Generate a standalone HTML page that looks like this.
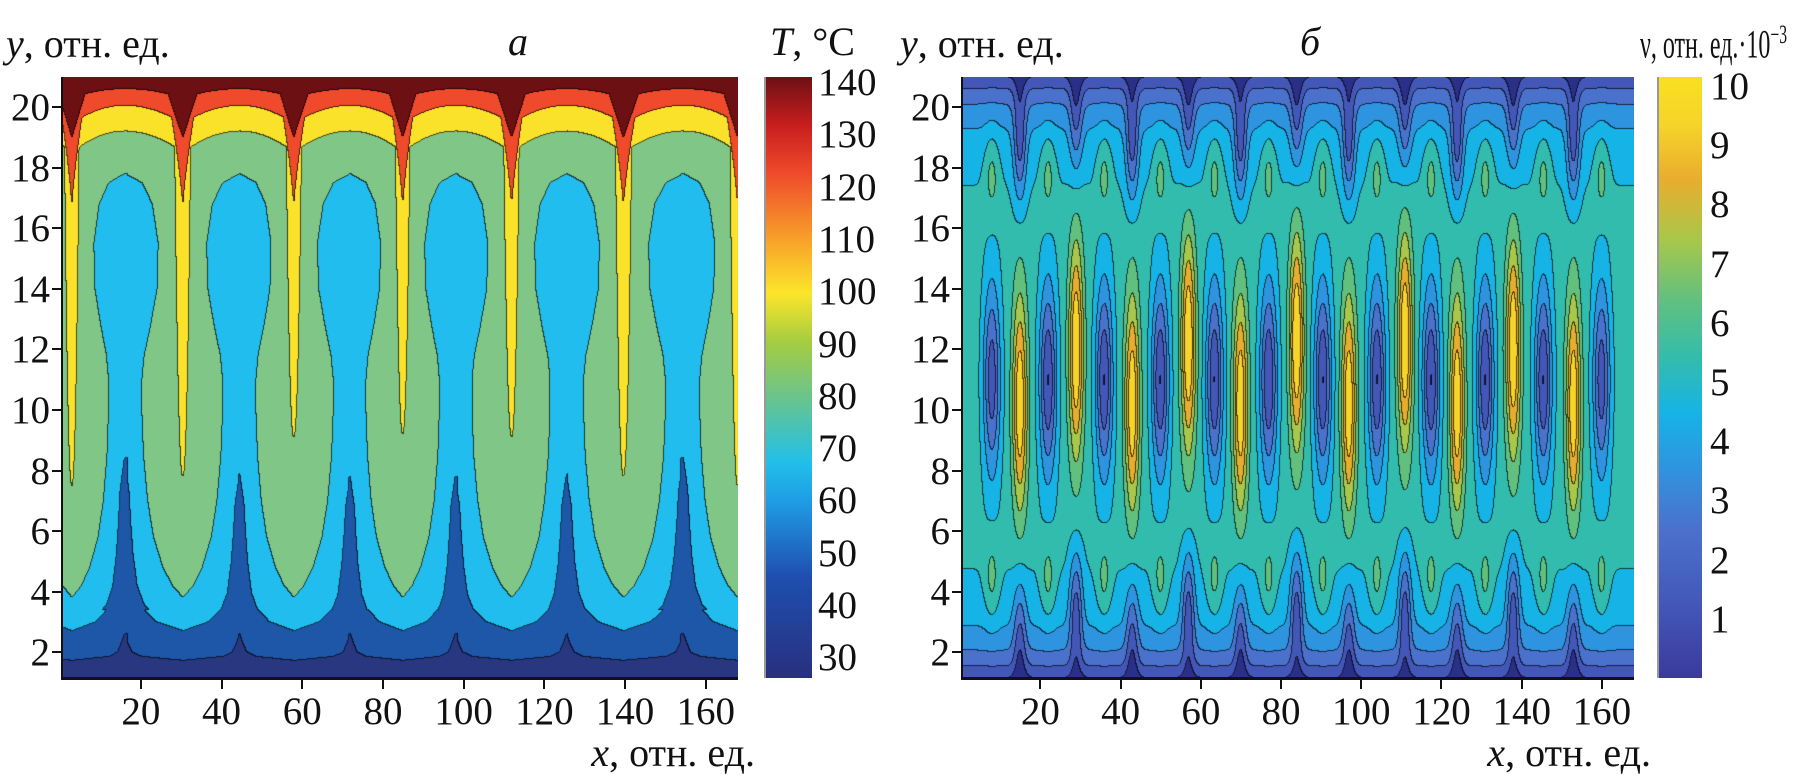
<!DOCTYPE html>
<html><head><meta charset="utf-8">
<style>
body{margin:0;background:#fff;width:1802px;height:781px;overflow:hidden;position:relative;font-family:"Liberation Serif",serif;color:#111}
.t{position:absolute;font-size:40px;white-space:nowrap;line-height:1}
canvas{position:absolute}
</style></head><body>
<canvas id="cl" style="left:63px;top:77px" width="675" height="601"></canvas>
<canvas id="cr" style="left:963px;top:77px" width="671" height="601"></canvas>
<div style="position:absolute;left:764px;top:77px;width:46px;height:601px;background:linear-gradient(to top,#28307e 0%,#1f4fb0 17%,#1fa0e6 30%,#22c0e8 36%,#6cc48a 47%,#a6cd40 56%,#fbe52a 64%,#f8a82a 72%,#ef4a2b 84%,#c81e1e 92%,#6d1014 100%);border-left:2px solid #999"></div>
<div style="position:absolute;left:1657px;top:77px;width:43px;height:601px;background:linear-gradient(to top,#3b3a9c 0%,#4357b8 12%,#4a72cc 25%,#2f94e0 35%,#16b3e6 44%,#32bcae 53%,#62c07e 63%,#a9c74a 73%,#e9ad2e 83%,#f6d42a 92%,#f8e020 100%);border-left:2px solid #999"></div>
<div id="axes"></div>
<div class="t" style="left:6px;top:24px"><i>y</i>, отн. ед.</div>
<div class="t" style="left:508px;top:22px"><i>а</i></div>
<div class="t" style="left:770px;top:22px"><i>T</i>, °С</div>
<div class="t" style="right:1047px;top:733px"><i>x</i>, отн. ед.</div>
<div class="t" style="left:900px;top:24px"><i>y</i>, отн. ед.</div>
<div class="t" style="left:1300px;top:22px"><i>б</i></div>
<div class="t" style="left:1640px;top:22px;transform:scaleX(0.6);transform-origin:left top">ν, отн. ед.·10<sup style="font-size:26px">−3</sup></div>
<div class="t" style="right:151px;top:733px"><i>x</i>, отн. ед.</div>
<script>
// ---- data ----
const xTicks=[20,40,60,80,100,120,140,160];
const yTicks=[2,4,6,8,10,12,14,16,18,20];
const tTicks=[30,40,50,60,70,80,90,100,110,120,130,140];
const vTicks=[1,2,3,4,5,6,7,8,9,10];
// panel a: hot cusps (top) and cold columns (bottom) x positions
const hotX=[3,30.5,58,85,112,139.7,168];
const hotTipY=[7.5,7.8,9.1,9.2,9.1,7.8,7.5];
const coldX=[16,44.6,72,98,125.6,154.6];
const coldTipY=[8.4,7.9,7.8,7.8,7.9,8.4];
// panel b: peaks and troughs
const peakX=[15,29,43,57,70,84,97,111,124,138,153];
const peakY=[10.2,12,10.2,12.2,10.2,12.3,10.2,12.3,10.2,12,10.2];
const peakV=[4.6,4.8,4.6,4.8,4.6,4.8,4.6,4.8,4.6,4.8,4.6];
const troughX=[8,22,36,50,63.5,77,90.5,104,117.5,131,145.5,160];
const troughV=[-4,-4.4,-4.4,-4.4,-4.4,-4.4,-4.4,-4.4,-4.4,-4.4,-4.4,-4];

const X0=0.7,X1=168,Y0=1.15,Y1=21;
function mk(tag,name,css,txt){const e=document.createElement(tag);e.setAttribute('style',css);if(txt!==undefined)e.textContent=txt;


document.getElementById('axes').appendChild(e);return e;}
function axesFor(L,W,tag){
  const T=77,H=601;
  const sx=x=>L+(x-X0)*W/(X1-X0), sy=y=>T+(Y1-y)*H/(Y1-Y0);
  mk('div','y-axis-line-'+tag,`position:absolute;left:${L-2}px;top:${T}px;width:2px;height:${H+1}px;background:#111`);
  mk('div','x-axis-line-'+tag,`position:absolute;left:${L-2}px;top:${T+H-1}px;width:${W+2}px;height:3px;background:#111`);
  yTicks.forEach(v=>{const p=sy(v);
    mk('div','y-tick-'+tag,`position:absolute;left:${L-11}px;top:${p-1}px;width:9px;height:2px;background:#111`);
    mk('div','y-tick-label-'+tag,`position:absolute;right:${1802-(L-13)}px;top:${p-19}px;font-size:39px;line-height:1`,String(v));});
  xTicks.forEach(v=>{const p=sx(v);
    mk('div','x-tick-'+tag,`position:absolute;left:${p-1}px;top:${T+H+2}px;width:2px;height:9px;background:#111`);
    mk('div','x-tick-label-'+tag,`position:absolute;left:${p-50}px;width:100px;text-align:center;top:${T+H+14}px;font-size:39px;line-height:1`,String(v));});
  return {sx,sy};
}
axesFor(63,675,'a');axesFor(963,671,'b');
tTicks.forEach(v=>{const p=77+(141-v)*601/(141-26);
  mk('div','temperature-colorbar-label',`position:absolute;left:818px;top:${p-19}px;font-size:39px;line-height:1`,String(v));});
vTicks.forEach(v=>{const p=77+(10.15-v)*601/10.15;
  mk('div','velocity-colorbar-label',`position:absolute;left:1710px;top:${p-19}px;font-size:39px;line-height:1`,String(v));});

function interp(ys,hs,y){if(y>=ys[0])return hs[0];for(let i=1;i<ys.length;i++){if(y>=ys[i]){const t=(y-ys[i])/(ys[i-1]-ys[i]);return hs[i]+t*(hs[i-1]-hs[i]);}}return hs[hs.length-1];}
function hex(c){return [parseInt(c.substr(1,2),16),parseInt(c.substr(3,2),16),parseInt(c.substr(5,2),16)];}
function spike(y,s,tip,top,w0,p){if(y<=tip)return false;return s<w0*Math.pow(Math.min(1,(y-tip)/(top-tip)),p);}
const cyY=[17.8,17.5,16.8,15.5,14,12.8,11.8,11,10,8.5,7,5.8,4.8,4.2,3.8],cyH=[0,0.3,0.48,0.58,0.56,0.45,0.34,0.3,0.3,0.33,0.4,0.5,0.66,0.82,1];
const blY=[8,7,6,5,4,3.4,3.0,2.7],blH=[0,0.08,0.11,0.15,0.22,0.34,0.55,1];
const nvY=[2.6,2.3,2.0,1.85,1.72],nvH=[0,0.06,0.13,0.3,1];
function bandA(x,y){
  let h=0;for(let i=0;i<hotX.length;i++)if(Math.abs(x-hotX[i])<Math.abs(x-hotX[h]))h=i;
  let c=(x>=hotX[h])?h:h-1;c=Math.max(0,Math.min(coldX.length-1,c));
  const s=Math.min(1,Math.abs(x-hotX[h])/Math.abs(coldX[c]-hotX[h]));
  let cc=0;for(let i=0;i<coldX.length;i++)if(Math.abs(x-coldX[i])<Math.abs(x-coldX[cc]))cc=i;
  const r=1-s;
  if(y>20.6-0.3*r*r||spike(y,s,19.0,20.6,0.28,1))return 0;
  if(y>20.05-0.6*r*r||spike(y,s,16.7,20.0,0.22,1.3))return 1;
  if(y>19.2-0.7*r*r||spike(y,s,hotTipY[h],19.0,0.14,0.45))return 2;
  if(y<=1.72||r<interp(nvY,nvH,y))return 6;
  const yb=y*8/coldTipY[cc];
  if(r<interp(blY,blH,y<3.4?y:yb))return 5;
  if(y<17.8&&r<interp(cyY,cyH,y))return 4;
  return 3;
}
const colA=['#6d1014','#ef4a2b','#fbe22a','#80c686','#20bdee','#1e56a8','#283780'].map(hex);
const colB=['#2a2f88','#4357b8','#4a72cc','#2f94e0','#16b3e6','#32bcae','#62c07e','#a9c74a','#e9ad2e','#f6d42a'].map(hex);
function g(a,b){return Math.exp(-(a*a+b*b));}
function valB(x,y){
  let v=5.4;
  for(let i=0;i<peakX.length;i++){
    v+=peakV[i]*g((x-peakX[i])/1.8,(y-peakY[i])/3.6);
    const deep=peakY[i]<11;
    v-=(deep?3.0:2.2)*g((x-peakX[i])/1.6,(y-(deep?18.8:19.6))/2.0);
    v-=(deep?2.2:3.0)*g((x-peakX[i])/1.6,(y-(deep?2.6:3.4))/2.0);
  }
  for(let i=0;i<troughX.length;i++){
    v+=troughV[i]*g((x-troughX[i])/2.1,(y-11)/3.2);
    v+=1.4*g((x-troughX[i])/1.8,(y-17.8)/1.4);
    v+=1.4*g((x-troughX[i])/1.8,(y-4.4)/1.4);
  }
  v-=4.4*Math.exp(-(Y1-y)/1.5)+4.4*Math.exp(-(y-Y0)/1.5);
  return v;
}
function render(id,W,fn,cols){
  const cv=document.getElementById(id),ctx=cv.getContext('2d'),H=cv.height;
  const lv=new Int8Array(W*H);
  for(let j=0;j<H;j++){const y=Y1-(j+0.5)*(Y1-Y0)/H;
    for(let i=0;i<W;i++){const x=X0+(i+0.5)*(X1-X0)/W;lv[j*W+i]=fn(x,y);}}
  const im=ctx.createImageData(W,H),d=im.data;
  for(let j=0;j<H;j++)for(let i=0;i<W;i++){const k=j*W+i,l=lv[k];let c=cols[l];
    const edge=(i<W-1&&lv[k+1]!==l)||(j<H-1&&lv[k+W]!==l);
    const f=edge?0.3:1;
    d[k*4]=c[0]*f;d[k*4+1]=c[1]*f;d[k*4+2]=c[2]*f;d[k*4+3]=255;}
  ctx.putImageData(im,0,0);
}
render('cl',675,bandA,colA);
render('cr',671,(x,y)=>Math.max(0,Math.min(9,Math.floor(valB(x,y)))),colB);
</script>
</body></html>
